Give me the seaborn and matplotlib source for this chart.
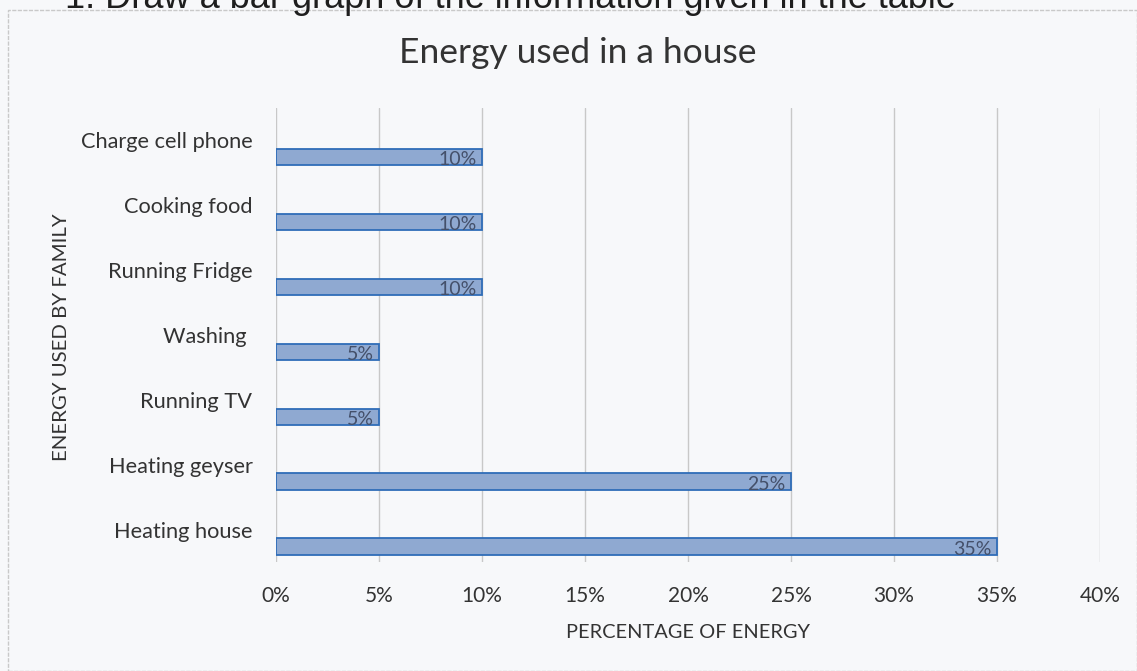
import matplotlib
matplotlib.use("Agg")
import matplotlib.pyplot as plt
from matplotlib.ticker import PercentFormatter
import seaborn as sns
import pandas as pd

categories = ["Charge cell phone", "Cooking food", "Running Fridge", "Washing ",
              "Running TV", "Heating geyser", "Heating house"]
values = [10, 10, 10, 5, 5, 25, 35]
value_labels = ["10%", "10%", "10%", "5%", "5%", "25%", "35%"]
x_ticks = [0, 5, 10, 15, 20, 25, 30, 35, 40]

title = "Energy used in a house"
xlabel = "PERCENTAGE OF ENERGY"
ylabel = "ENERGY USED BY FAMILY"
heading = "1. Draw a bar graph of the information given in the table"

df = pd.DataFrame({"activity": categories, "percent": values})

sns.set_theme(style="white")
plt.rcParams["font.family"] = ["Lato", "DejaVu Sans"]

BG = "#F7F8FA"
W, H = 1137, 671
fig = plt.figure(figsize=(W / 100, H / 100), dpi=100, facecolor=BG)
ax = fig.add_axes([276 / W, 1 - 562 / H, (1100 - 276) / W, (562 - 108) / H])
ax.set_facecolor(BG)

sns.barplot(data=df, y="activity", x="percent", orient="h", ax=ax,
            color="#8FA9D1", edgecolor="#2F6DB8", linewidth=1.3,
            width=0.25, saturation=1, errorbar=None)

# bars sit in the lower part of each category band (as in the source chart)
for p in ax.patches:
    p.set_y(p.get_y() + 0.26)

for p, lab in zip(ax.patches, value_labels):
    ax.text(p.get_x() + p.get_width() - 0.25, p.get_y() + p.get_height() / 2 + 0.04,
            lab, ha="right", va="center", fontsize=14, color="#44506A")

ax.set_xlim(0, 40)
ax.set_ylim(6.5, -0.5)
ax.set_xticks(x_ticks)
ax.xaxis.set_major_formatter(PercentFormatter(decimals=0))
ax.grid(axis="x", color="#C8C8C8", linewidth=1.0)
ax.set_axisbelow(True)
for s in ax.spines.values():
    s.set_visible(False)

ax.tick_params(axis="x", length=0, pad=17, labelsize=15, labelcolor="#333333")
ax.tick_params(axis="y", length=0, pad=17, labelsize=15.7, labelcolor="#333333")

ax.set_xlabel(xlabel, fontsize=14.4, color="#333333", labelpad=13)
ax.set_ylabel(ylabel, fontsize=14.7, color="#333333")
ax.yaxis.set_label_coords((70 - 276) / (1100 - 276), 1 - (337 - 108) / (562 - 108))

fig.text(578 / W, 1 - 53 / H, title, ha="center", va="center",
         fontsize=25.5, color="#333333")

# outer chart frame
frame = plt.Rectangle((8 / W, 0.0), (W - 8) / W, 1 - 10 / H,
                      transform=fig.transFigure, fill=False,
                      edgecolor="#C9C9C9", linewidth=1.0, linestyle=(0, (3, 1)))
fig.add_artist(frame)

# partially visible heading above the chart (cut off by the crop, as in the source)
fig.text(65 / W, 1 - 8 / H, heading, ha="left", va="baseline",
         fontsize=26, color="#1E1E1E", family=["Liberation Sans", "DejaVu Sans"])

fig.savefig("out.png", dpi=100, facecolor=BG)
